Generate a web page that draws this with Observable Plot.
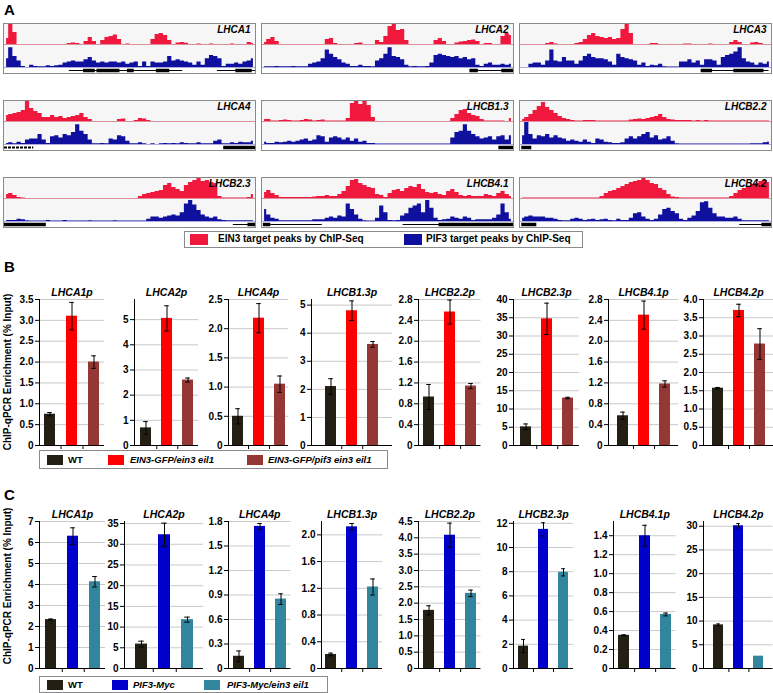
<!DOCTYPE html>
<html><head><meta charset="utf-8">
<script src="https://cdn.jsdelivr.net/npm/d3@7"></script>
<script src="https://cdn.jsdelivr.net/npm/@observablehq/plot@0.6"></script>
<style>
body{margin:0;background:#fff;font-family:"Liberation Sans",Arial,sans-serif;}
#root{position:relative;width:773px;height:693px;overflow:hidden;background:#fff;}
.box{position:absolute;border:1px solid #8a8a8a;box-sizing:border-box;background:#fff;}
.box svg{display:block;}
.sep{height:1px;background:#cfcfcf;}
.letter{position:absolute;font-weight:bold;font-size:15px;line-height:15px;}
.legend{position:absolute;border:1px solid #8a8a8a;box-sizing:border-box;background:#fff;}
.sw{position:absolute;}
.lt{position:absolute;font-weight:bold;white-space:nowrap;}
.ylab{position:absolute;font-weight:bold;font-size:10px;white-space:nowrap;transform:translate(-50%,-50%) rotate(-90deg);}
</style></head>
<body><div id="root"></div>
<script>
// ---------- Panel A data (ChIP-Seq tracks, 60 bins, % of track height) ----------
const trackNames = ["LHCA1","LHCA2","LHCA3","LHCA4","LHCB1.3","LHCB2.2","LHCB2.3","LHCB4.1","LHCB4.2"];
const ein3Tracks = [
 [30,100,60,0,0,0,0,0,0,0, 0,0,0,0,0,5,8,5,0,15, 35,15,0,20,35,40,47,25,0,3, 0,0,0,0,0,25,50,55,45,20, 0,8,10,6,0,0,3,0,0,3, 0,0,0,0,3,0,0,0,10,5],
 [10,25,35,15,0,0,0,0,0,0, 0,0,0,0,0,25,30,5,0,0, 0,0,5,8,0,0,0,20,10,40, 90,100,70,75,20,0,0,0,0,0, 0,20,30,15,0,0,8,12,15,20, 22,15,0,5,5,0,0,40,55,45],
 [0,0,0,0,0,0,5,10,3,0, 0,0,0,5,10,25,45,55,40,35, 30,35,25,30,75,100,55,0,0,0, 0,5,5,0,0,0,0,0,0,3, 3,0,0,0,0,3,0,0,0,0, 10,20,10,0,0,8,10,5,0,0],
 [30,35,40,45,55,100,65,50,40,20, 20,30,20,25,15,20,25,30,40,20, 10,0,0,0,0,0,0,10,12,0, 0,5,15,12,5,0,0,0,0,0, 0,0,0,0,0,0,0,0,0,0, 0,0,0,0,0,0,0,0,0,0],
 [10,10,3,2,5,8,5,3,2,5, 10,8,3,5,8,3,2,2,3,3, 15,90,100,85,100,80,20,0,0,0, 0,0,0,0,0,0,0,0,0,0, 0,0,0,0,0,15,35,55,60,40, 30,25,10,3,3,3,3,3,0,15],
 [10,20,35,55,75,95,70,55,40,25, 15,10,5,3,3,5,5,5,3,2, 2,2,2,2,2,3,8,10,12,10, 15,20,25,35,20,10,8,5,5,5, 5,3,5,3,5,2,2,2,2,2, 2,2,2,2,2,2,2,2,2,2],
 [20,25,15,5,3,0,0,0,0,0, 0,0,0,0,0,0,0,0,0,0, 0,0,0,0,0,0,0,0,0,0, 0,0,10,20,25,30,35,40,65,75, 55,45,35,65,80,90,100,85,90,80, 75,10,2,2,2,2,2,2,5,20],
 [30,40,25,15,5,5,5,5,5,5, 5,5,8,10,10,15,10,10,20,35, 60,90,95,75,65,55,50,20,15,5, 25,40,45,35,50,60,55,70,45,30, 25,30,20,15,35,45,30,15,10,15, 10,10,10,20,15,10,25,35,20,10],
 [3,3,3,2,2,2,2,2,2,2, 2,2,2,2,2,2,2,2,2,10, 25,35,40,50,60,70,80,85,90,100, 90,75,70,50,40,20,8,5,3,3, 3,3,3,3,3,3,3,3,3,3, 10,25,40,50,60,70,75,85,90,80]
];
const pif3Tracks = [
 [40,90,50,30,5,0,10,5,3,3, 8,5,8,10,20,25,30,25,25,35, 45,30,20,25,20,25,25,20,25,15, 20,25,5,25,5,25,20,20,25,50, 30,35,30,25,20,10,25,10,40,55, 50,40,5,15,15,20,15,25,30,40],
 [3,3,3,5,3,3,3,5,3,3, 3,15,20,25,40,80,60,45,35,20, 15,5,5,10,5,5,3,30,40,60, 90,50,45,35,10,3,5,3,3,5, 20,55,60,55,50,45,50,40,45,35, 40,10,5,15,20,10,10,15,10,15],
 [0,0,15,20,20,10,30,80,30,25, 45,30,30,15,30,50,60,45,40,40, 35,25,10,60,45,40,35,30,10,20, 5,10,8,15,3,2,2,2,25,25, 35,20,30,10,35,35,30,10,45,55, 60,70,90,40,25,20,10,20,15,25],
 [5,8,3,10,5,20,25,25,45,20, 5,35,40,30,45,40,55,90,60,45, 20,3,3,5,3,25,20,40,35,15, 3,3,8,3,0,3,0,3,5,3, 5,3,8,5,3,3,8,3,3,3, 15,20,3,3,8,5,10,8,8,15],
 [10,5,5,10,8,10,15,10,15,20, 25,15,20,40,35,10,30,35,30,20, 30,15,25,10,15,5,5,2,2,2, 2,2,2,2,2,2,2,2,2,2, 2,2,2,2,2,30,55,60,90,60, 45,35,25,30,35,20,35,40,20,40],
 [40,100,45,25,40,35,45,30,40,30, 25,15,20,15,10,20,10,5,25,20, 10,8,5,5,8,25,35,25,35,45, 55,30,40,20,25,35,15,3,2,2, 2,2,2,2,2,2,2,2,2,2, 2,2,2,2,2,3,3,3,8,10],
 [5,5,5,10,8,3,2,2,2,2, 5,2,2,2,4,2,2,2,2,2, 3,2,2,2,2,2,3,2,2,2, 2,2,2,2,10,20,20,15,20,25, 30,25,40,80,95,75,50,30,20,15, 20,8,5,3,3,3,3,3,3,3],
 [55,30,15,10,3,3,3,3,3,3, 3,3,8,8,8,15,20,15,25,20, 80,55,30,10,3,2,2,15,70,40, 5,3,5,25,35,60,70,80,40,95, 60,15,5,8,10,20,15,10,20,15, 5,8,8,8,8,15,30,80,40,10],
 [15,20,25,20,20,20,15,15,10,5, 3,3,10,15,10,5,8,10,5,8, 10,5,3,10,5,5,15,35,40,20, 10,5,10,30,55,60,45,35,10,5, 15,25,45,85,90,60,35,20,20,15, 15,20,10,3,3,3,3,3,3,3]
];
// gene models, in bin units [start, end]
const geneThin = [
 [[15.5,42.6],[50.9,60]], [[49.6,57.6]], [[43.2,59.4]], [], [], [], [[54.7,60]], [[2,14.3],[33.6,60]], [[52.4,59.4]]
];
const geneMid = [[], [], [], [[0,7]], [], [], [], [], []];
const geneThick = [
 [[18.9,21.7],[22.1,27.6],[29.4,31],[36.3,39.5],[55.3,59.2]], [[49.6,51.6],[57.2,60]], [[43.2,45.9],[51,58.2]],
 [[52.4,60]], [[56.5,60]], [[0.3,2.7]], [[0,10],[58.2,60]], [[0.2,2],[42.2,60]], [[0.3,3.9],[57.7,60]]
];
const legendA = ["EIN3 target peaks by ChIP-Seq","PIF3 target peaks by ChIP-Seq"];
const colorsA = ["#f0183c","#10109e"];

// ---------- Panel B data ----------
const genes = ["LHCA1p","LHCA2p","LHCA4p","LHCB1.3p","LHCB2.2p","LHCB2.3p","LHCB4.1p","LHCB4.2p"];
const catsB = ["WT","EIN3-GFP/ein3 eil1","EIN3-GFP/pif3 ein3 eil1"];
const colorsB = ["#231f14","#ff0000","#953735"];
const bWT    = [0.75, 0.70, 0.50, 2.10, 0.93, 5.1, 0.57, 1.57];
const bWTe   = [0.04, 0.25, 0.13, 0.28, 0.24, 0.8, 0.07, 0.02];
const bEIN3  = [3.10, 5.05, 2.18, 4.80, 2.56, 34.7, 2.50, 3.70];
const bEIN3e = [0.33, 0.50, 0.25, 0.35, 0.23, 4.3, 0.27, 0.17];
const bPif3  = [2.00, 2.60, 1.05, 3.60, 1.14, 13.0, 1.18, 2.78];
const bPif3e = [0.15, 0.08, 0.14, 0.10, 0.05, 0.2, 0.06, 0.42];
const bMax   = [3.5, 5.8, 2.5, 5.2, 2.8, 40, 2.8, 4.0];
const bTicks = [
 [0,0.5,1,1.5,2,2.5,3,3.5], [0,1,2,3,4,5], [0,0.5,1,1.5,2,2.5], [0,1,2,3,4,5],
 [0,0.4,0.8,1.2,1.6,2,2.4,2.8], [0,5,10,15,20,25,30,35,40], [0,0.4,0.8,1.2,1.6,2,2.4,2.8], [0,0.5,1,1.5,2,2.5,3,3.5,4]
];
const bDec = [1,0,1,0,1,0,1,1];

// ---------- Panel C data ----------
const catsC = ["WT","PIF3-Myc","PIF3-Myc/ein3 eil1"];
const colorsC = ["#231f14","#0000cc","#31859c"];
const cWT    = [2.33, 5.9, 0.15, 0.21, 1.78, 1.85, 0.35, 9.2];
const cWTe   = [0.03, 0.7, 0.065, 0.02, 0.14, 0.55, 0.005, 0.2];
const cPIF3  = [6.30, 32.3, 1.74, 2.12, 4.08, 11.5, 1.40, 30.1];
const cPIF3e = [0.40, 2.8, 0.035, 0.05, 0.37, 0.55, 0.11, 0.45];
const cEin   = [4.13, 11.8, 0.85, 1.22, 2.30, 7.95, 0.57, 2.6];
const cEine  = [0.25, 0.6, 0.065, 0.12, 0.10, 0.30, 0.015, 0];
const cMax   = [7, 35.5, 1.8, 2.2, 4.5, 12.15, 1.55, 31];
const cTicks = [
 [0,1,2,3,4,5,6,7], [0,5,10,15,20,25,30,35], [0,0.3,0.6,0.9,1.2,1.5,1.8], [0,0.4,0.8,1.2,1.6,2],
 [0,0.5,1,1.5,2,2.5,3,3.5,4,4.5], [0,2,4,6,8,10,12], [0,0.2,0.4,0.6,0.8,1,1.2,1.4], [0,5,10,15,20,25,30]
];
const cDec = [0,0,1,1,1,0,1,0];
const yLabel = "ChIP-qPCR Enrichment (% Input)";

// ---------- layout ----------
const root = document.getElementById("root");
const FONT = '"Liberation Sans", Arial, sans-serif';
function place(el, x, y){ el.style.position="absolute"; el.style.left=x+"px"; el.style.top=y+"px"; root.appendChild(el); return el; }
function div(cls, html){ const d=document.createElement("div"); if(cls) d.className=cls; if(html!==undefined) d.innerHTML=html; return d; }

// panel letters
place(div("letter","A"), 4, 2);
place(div("letter","B"), 4, 259);
place(div("letter","C"), 4, 487);

// ---------- Panel A ----------
const boxX = [3, 261, 519], boxY = [23, 100, 177], boxW = 253, boxH = 51;
const innerW = boxW - 2;
function trackPlot(vals, color, h, label){
  const data = vals.map((v,i)=>({i: i+0.5, v}));
  const marks = [
    Plot.rect([0], {x1: 0, x2: 60, y1: 0, y2: 100, fill: "#f6f6f6"}),
    Plot.ruleY([0], {stroke: color, strokeOpacity: 0.35}),
    Plot.areaY(data, {x: "i", y: "v", curve: "step", fill: color})
  ];
  if (label) marks.push(Plot.text([label], {frameAnchor: "top-right", dx: -5, dy: 1, fontSize: 10, fontWeight: "bold", fontStyle: "italic", fill: "#000"}));
  return Plot.plot({width: innerW, height: h, margin: 0, x: {domain: [0,60], axis: null}, y: {domain: [0,100], axis: null},
    style: {fontFamily: FONT, background: "transparent", overflow: "visible"}, marks});
}
function genePlot(thin, mid, thick){
  return Plot.plot({width: innerW, height: 6, margin: 0, x: {domain: [0,60], axis: null}, y: {domain: [0,1], axis: null},
    style: {background: "transparent"},
    marks: [
      Plot.ruleY(thin, {x1: d=>d[0], x2: d=>d[1], y: () => 0.5, stroke: "#000", strokeWidth: 1}),
      Plot.ruleY(mid, {x1: d=>d[0], x2: d=>d[1], y: () => 0.5, stroke: "#000", strokeWidth: 2, strokeDasharray: "3,1"}),
      Plot.ruleY(thick, {x1: d=>d[0], x2: d=>d[1], y: () => 0.5, stroke: "#000", strokeWidth: 3.5})
    ]});
}
trackNames.forEach((name, i) => {
  const col = i % 3, row = Math.floor(i / 3);
  const b = div("box");
  b.style.width = boxW + "px"; b.style.height = boxH + "px";
  b.appendChild(trackPlot(ein3Tracks[i], colorsA[0], 20, name));
  b.appendChild(div("sep"));
  b.appendChild(trackPlot(pif3Tracks[i], colorsA[1], 22, null));
  b.appendChild(genePlot(geneThin[i], geneMid[i], geneThick[i]));
  place(b, boxX[col], boxY[row]);
});
// legend A
{
  const lg = div("legend"); lg.style.width = "399px"; lg.style.height = "17px";
  place(lg, 184, 231);
  const sx = [190, 404], tx = [218, 426];
  legendA.forEach((t, k) => {
    const s = div("sw"); s.style.background = colorsA[k]; s.style.width = "18px"; s.style.height = "11px";
    place(s, sx[k], 234);
    const l = div("lt", t); l.style.fontSize = "10px"; l.style.lineHeight = "12px";
    place(l, tx[k], 233);
  });
}

// ---------- bar charts ----------
function barChart({name, cats, colors, vals, errs, max, ticks, dec, axisX, c0, step, plotTop, plotBottom}){
  const po = (c0 - axisX) / step - 0.25;
  const W = step * (2.5 + 2 * po);
  const ml = 32, mr = 3, mt = 24, mb = 8;
  const plotH = plotBottom - plotTop;
  const data = cats.map((g, i) => ({g, v: vals[i], e: errs[i]}));
  const withErr = data.filter(d => d.e > 0);
  const svg = Plot.plot({
    width: ml + W + mr, height: mt + plotH + mb,
    marginLeft: ml, marginRight: mr, marginTop: mt, marginBottom: mb,
    style: {fontFamily: FONT, fontSize: "10px", fontWeight: "bold", color: "#000", background: "transparent", overflow: "visible"},
    x: {domain: cats, paddingInner: 0.5, paddingOuter: po, axis: null},
    y: {domain: [0, max]},
    color: {domain: cats, range: colors},
    marks: [
      Plot.gridY(ticks.filter(t => t > 0), {stroke: "#c9c9c9", strokeOpacity: 1}),
      Plot.barY(data, {x: "g", y: "v", fill: "g"}),
      Plot.ruleX(withErr, {x: "g", y1: d => d.v - d.e, y2: d => d.v + d.e, stroke: "#000", strokeWidth: 1}),
      Plot.tickY(withErr, {x: "g", y: d => d.v + d.e, insetLeft: 3.2, insetRight: 3.2, stroke: "#000"}),
      Plot.tickY(withErr, {x: "g", y: d => d.v - d.e, insetLeft: 3.2, insetRight: 3.2, stroke: "#000"}),
      Plot.axisY({ticks, label: null, tickSize: 4, tickPadding: 2, fontSize: 10, fontWeight: "bold", tickFormat: d => d === 0 ? "0" : d.toFixed(dec)}),
      Plot.ruleY([0], {stroke: "#000"}),
      Plot.frame({anchor: "left", stroke: "#000"}),
      Plot.ruleX(cats.slice(0, 2), {x: d => d, dx: step / 2, insetTop: plotH, insetBottom: -4, stroke: "#000"}),
      Plot.text([name], {frameAnchor: "top", dy: -11, fontSize: 10.5, fontStyle: "italic", fontWeight: "bold", fill: "#000"})
    ]
  });
  place(svg, axisX - ml, plotTop - mt);
}

const bLayout = [[39,49.5,22],[134,144.5,21.5],[228,237,21],[311,330,21.5],[418,428,21.25],[513,524.5,21.5],[608,622,21],[703,717,21]];
genes.forEach((g, i) => barChart({
  name: g, cats: catsB, colors: colorsB,
  vals: [bWT[i], bEIN3[i], bPif3[i]], errs: [bWTe[i], bEIN3e[i], bPif3e[i]],
  max: bMax[i], ticks: bTicks[i], dec: bDec[i],
  axisX: bLayout[i][0], c0: bLayout[i][1], step: bLayout[i][2], plotTop: 299, plotBottom: 445
}));
const cLayout = [[39,49.5,22.5],[124,140,23.5],[228,238,21.25],[321,330,21.5],[418,428,21.25],[513,523,20],[613,623,21.25],[703,717,20.75]];
genes.forEach((g, i) => barChart({
  name: g, cats: catsC, colors: colorsC,
  vals: [cWT[i], cPIF3[i], cEin[i]], errs: [cWTe[i], cPIF3e[i], cEine[i]],
  max: cMax[i], ticks: cTicks[i], dec: cDec[i],
  axisX: cLayout[i][0], c0: cLayout[i][1], step: cLayout[i][2], plotTop: 521, plotBottom: 668
}));

// y-axis labels
place(div("ylab", yLabel), 7, 372);
place(div("ylab", yLabel), 7, 586);

// legends B and C
function barLegend(cats, colors, x, y, w, h, sx, tx){
  const lg = div("legend"); lg.style.width = w + "px"; lg.style.height = h + "px";
  place(lg, x, y);
  cats.forEach((t, k) => {
    const s = div("sw"); s.style.background = colors[k]; s.style.width = "16px"; s.style.height = "10px";
    place(s, sx[k], y + (h - 10) / 2);
    const l = div("lt", t); l.style.fontSize = "9.5px"; l.style.lineHeight = "11px";
    if (k > 0) l.style.fontStyle = "italic";
    place(l, tx[k], y + (h - 11) / 2);
  });
}
barLegend(catsB, colorsB, 39, 450, 349, 19, [47,108,247], [68,130,268]);
barLegend(catsC, colorsC, 39, 676, 289, 17, [47,112,204], [68,133,227]);
</script></body></html>
